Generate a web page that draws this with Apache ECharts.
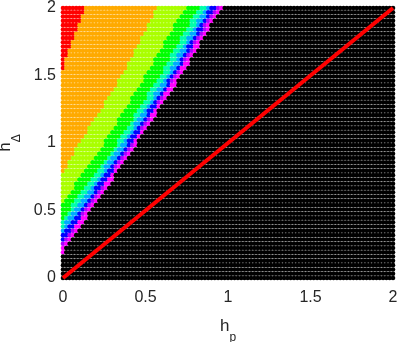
<!DOCTYPE html>
<html>
<head>
<meta charset="utf-8">
<script src="https://cdn.jsdelivr.net/npm/echarts@6/dist/echarts.min.js"></script>
<style>
html, body { margin: 0; padding: 0; background: #fff; }
#main { width: 398px; height: 342px; }
</style>
</head>
<body>
<div id="main"></div>
<script>
// colour bands, from top-left to bottom-right
var bandColors = ['#ff0000', '#ffaa00', '#aaff00', '#00ff00', '#00ffaa', '#00aaff', '#0000ff', '#aa00ff', '#ff00ff', '#000000'];

// band borders, points are [h_p, h_delta]
var edgeRedOrange = [[0, 1.55], [0.13, 2]];
var edgeOrangeYellow = [[0, 0.78], [0.10, 1], [0.36, 1.5], [0.57, 2]];
var edgeYellowGreen = [[0, 0.56], [0.25, 1], [0.50, 1.5], [0.74, 2]];
var edgeGreenSpring = [[0, 0.44], [0.33, 1], [0.59, 1.5], [0.82, 2]];
var edgeSpringCyan = [[0, 0.38], [0.36, 1], [0.63, 1.5], [0.86, 2]];
var edgeCyanBlue = [[0, 0.32], [0.39, 1], [0.66, 1.5], [0.89, 2]];
var edgeBlueViolet = [[0, 0.27], [0.42, 1], [0.68, 1.5], [0.92, 2]];
var edgeVioletMagenta = [[0, 0.24], [0.43, 1], [0.69, 1.5], [0.94, 2]];
var edgeMagentaBlack = [[0, 0.19], [0.45, 1], [0.72, 1.5], [0.96, 2]];

// sample grid
var hpValues = [];
for (var i = 0; i <= 100; i++) hpValues.push(i * 0.02);
var hdValues = [];
for (var j = 0; j <= 63; j++) hdValues.push(j * 2 / 63);

// red reference line h_delta = h_p
var diagLine = [[0, 0], [2, 2]];

var xTicks = [0, 0.5, 1, 1.5, 2];
var yTicks = [0, 0.5, 1, 1.5, 2];

var edges = [edgeRedOrange, edgeOrangeYellow, edgeYellowGreen, edgeGreenSpring, edgeSpringCyan,
	edgeCyanBlue, edgeBlueViolet, edgeVioletMagenta, edgeMagentaBlack];

// h_p of an edge at height y (below the edge start -> everything is right of it)
function edgeX(edge, y) {
	if (y < edge[0][1]) return -1;
	for (var k = 0; k < edge.length - 1; k++) {
		var a = edge[k], b = edge[k + 1];
		if (y <= b[1] || k == edge.length - 2) {
			return a[0] + (b[0] - a[0]) * (y - a[1]) / (b[1] - a[1]);
		}
	}
	return edge[edge.length - 1][0];
}

function bandOf(x, y) {
	var n = 0;
	for (var k = 0; k < edges.length; k++) {
		if (x > edgeX(edges[k], y) + 1e-9) n++;
	}
	return n;
}

var bandData = bandColors.map(function() { return []; });
hdValues.forEach(function(y) {
	hpValues.forEach(function(x) {
		bandData[bandOf(x, y)].push([x, y]);
	});
});

var series = bandColors.map(function(c, idx) {
	return {
		type: 'scatter',
		data: bandData[idx],
		symbol: 'circle',
		symbolSize: 4.6,
		itemStyle: { color: c, opacity: 1 },
		silent: true,
		z: 2
	};
});
series.push({
	type: 'line',
	data: diagLine,
	symbol: 'none',
	lineStyle: { color: '#ff0000', width: 4 },
	silent: true,
	z: 5
});

var nameRich = {
	a: { fontSize: 17, color: '#262626', fontFamily: 'Liberation Sans', lineHeight: 20, verticalAlign: 'top' },
	b: { fontSize: 12, color: '#262626', fontFamily: 'Liberation Sans', lineHeight: 26, verticalAlign: 'bottom' }
};

var myChart = echarts.init(document.getElementById('main'));
var option = {
	animation: false,
	backgroundColor: '#ffffff',
	grid: { left: 63, right: 5, top: 8, bottom: 64, containLabel: false, outerBoundsMode: 'none' },
	xAxis: {
		type: 'value',
		min: xTicks[0],
		max: xTicks[xTicks.length - 1],
		interval: 0.5,
		name: '{a|h}{b|p}',
		nameLocation: 'middle',
		nameGap: 40,
		nameTextStyle: { rich: nameRich },
		axisLine: { show: false },
		axisTick: { show: false },
		splitLine: { show: false },
		axisLabel: { fontSize: 16, color: '#262626', fontFamily: 'Liberation Sans', margin: 12 }
	},
	yAxis: {
		type: 'value',
		min: yTicks[0],
		max: yTicks[yTicks.length - 1],
		interval: 0.5,
		name: '{a|h}{b|Δ}',
		nameLocation: 'middle',
		nameGap: 36,
		nameRotate: 90,
		nameTextStyle: { rich: nameRich },
		axisLine: { show: false },
		axisTick: { show: false },
		splitLine: { show: false },
		axisLabel: { fontSize: 16, color: '#262626', fontFamily: 'Liberation Sans', margin: 7 }
	},
	series: series
};
myChart.setOption(option);
</script>
</body>
</html>
